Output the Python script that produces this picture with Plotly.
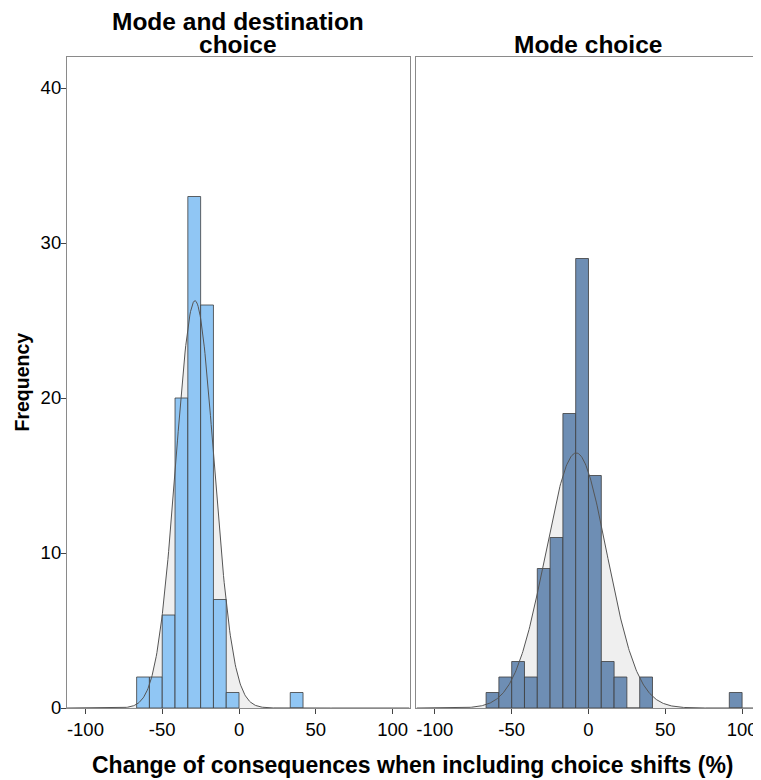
import numpy as np
import plotly.graph_objects as go

# ---- data ----
BIN_WIDTH = 100 / 12
left_centers = [-62.5, -54.17, -45.83, -37.5, -29.17, -20.83, -12.5, -4.17, 37.5]
left_counts = [2, 2, 6, 20, 33, 26, 7, 1, 1]
right_centers = [-62.5, -54.17, -45.83, -37.5, -29.17, -20.83, -12.5, -4.17,
                 4.17, 12.5, 20.83, 29.17, 37.5, 95.83]
right_counts = [1, 2, 3, 2, 9, 11, 19, 29, 15, 3, 2, 0, 2, 1]
left_mean, left_sd = -28.7, 12.4
right_mean, right_sd = -8.0, 20.0
x_ticks = [-100, -50, 0, 50, 100]
x_tick_labels = ["-100", "-50", "0", "50", "100"]
y_ticks = [0, 10, 20, 30, 40]
y_tick_labels = ["0", "10", "20", "30", "40"]
left_title_lines = ["Mode and destination", "choice"]
right_title = "Mode choice"
x_title = "Change of consequences when including choice shifts (%)"
y_title = "Frequency"

X_RANGE = [-112, 111]
Y_RANGE = [0, 42]
FONT = "Liberation Sans, Arial, sans-serif"
LEFT_COLOR = "#90C6F4"
RIGHT_COLOR = "#6E8EB4"


def normal_curve(mean, sd, n):
    xs = np.linspace(X_RANGE[0], X_RANGE[1], 500)
    ys = n * BIN_WIDTH * np.exp(-0.5 * ((xs - mean) / sd) ** 2) / (sd * np.sqrt(2 * np.pi))
    return xs, ys


lx, ly = normal_curve(left_mean, left_sd, sum(left_counts))
rx, ry = normal_curve(right_mean, right_sd, sum(right_counts))

fig = go.Figure()
# gray filled normal area (base subplots, beneath bars)
fig.add_trace(go.Scatter(x=lx, y=ly, mode="lines", fill="tozeroy", fillcolor="#EFEFEF",
                         line=dict(width=0, color="#EFEFEF"), xaxis="x", yaxis="y",
                         hoverinfo="skip", showlegend=False))
fig.add_trace(go.Scatter(x=rx, y=ry, mode="lines", fill="tozeroy", fillcolor="#EFEFEF",
                         line=dict(width=0, color="#EFEFEF"), xaxis="x2", yaxis="y2",
                         hoverinfo="skip", showlegend=False))
# bars (overlay subplots)
fig.add_trace(go.Bar(x=left_centers, y=left_counts, width=BIN_WIDTH,
                     marker=dict(color=LEFT_COLOR, line=dict(color="#3c3c3c", width=0.8)),
                     xaxis="x3", yaxis="y3", showlegend=False))
fig.add_trace(go.Bar(x=right_centers, y=right_counts, width=BIN_WIDTH,
                     marker=dict(color=RIGHT_COLOR, line=dict(color="#3c3c3c", width=0.8)),
                     xaxis="x4", yaxis="y4", showlegend=False))
# normal curve lines
fig.add_trace(go.Scatter(x=lx, y=ly, mode="lines", line=dict(color="#555555", width=1),
                         xaxis="x3", yaxis="y3", showlegend=False))
fig.add_trace(go.Scatter(x=rx, y=ry, mode="lines", line=dict(color="#555555", width=1),
                         xaxis="x4", yaxis="y4", showlegend=False))

common_x = dict(range=X_RANGE, tickvals=x_ticks, ticktext=x_tick_labels, ticks="outside",
                ticklen=5, tickcolor="#444444", showline=True, linecolor="#8a8a8a",
                linewidth=1.2, mirror=True, showgrid=False, zeroline=False,
                tickfont=dict(size=18.5, color="black", family=FONT))
common_y = dict(range=Y_RANGE, tickvals=y_ticks, ticktext=y_tick_labels, showline=True,
                linecolor="#8a8a8a", linewidth=1.2, mirror=True, showgrid=False,
                zeroline=False, domain=[0, 1])
hidden = dict(visible=False, showgrid=False, zeroline=False)

title_font = dict(size=24.5, family=FONT)

# page body has an 8px default margin; size and margins compensate for it
fig.update_layout(
    width=753, height=772,
    margin=dict(l=59, r=2, t=49, b=72),
    paper_bgcolor="white", plot_bgcolor="white",
    font=dict(family=FONT, color="black"),
    barmode="overlay",
    xaxis=dict(common_x, domain=[0, 0.495], anchor="y"),
    xaxis2=dict(common_x, domain=[0.505, 1], anchor="y2"),
    yaxis=dict(common_y, anchor="x", ticks="outside", ticklen=5, tickcolor="#444444",
               ticklabelstandoff=-4,
               tickfont=dict(size=18.5, color="black", family=FONT)),
    yaxis2=dict(common_y, anchor="x2", ticks="", showticklabels=False),
    xaxis3=dict(hidden, range=X_RANGE, overlaying="x", anchor="y3"),
    yaxis3=dict(hidden, range=Y_RANGE, overlaying="y", anchor="x3"),
    xaxis4=dict(hidden, range=X_RANGE, overlaying="x2", anchor="y4"),
    yaxis4=dict(hidden, range=Y_RANGE, overlaying="y2", anchor="x4"),
    annotations=[
        dict(text="<b>" + left_title_lines[0] + "</b>", x=0.2475, y=1, xref="paper",
             yref="paper", xanchor="center", yanchor="bottom", showarrow=False,
             font=title_font, yshift=21, borderpad=0),
        dict(text="<b>" + left_title_lines[1] + "</b>", x=0.2475, y=1, xref="paper",
             yref="paper", xanchor="center", yanchor="bottom", showarrow=False,
             font=title_font, yshift=-3),
        dict(text="<b>" + right_title + "</b>", x=0.7525, y=1, xref="paper", yref="paper",
             xanchor="center", yanchor="bottom", showarrow=False,
             font=title_font, yshift=-3),
        dict(text="<b>" + x_title + "</b>", x=0.5, y=0, xref="paper", yref="paper",
             xanchor="center", yanchor="middle", yshift=-57, showarrow=False,
             font=dict(size=23, family=FONT)),
        dict(text="<b>" + y_title + "</b>", x=0, y=0.5, xref="paper", yref="paper",
             xanchor="center", yanchor="middle", xshift=-46, textangle=-90,
             showarrow=False, font=dict(size=19.5, family=FONT)),
    ],
)

fig.write_html("out.html")
